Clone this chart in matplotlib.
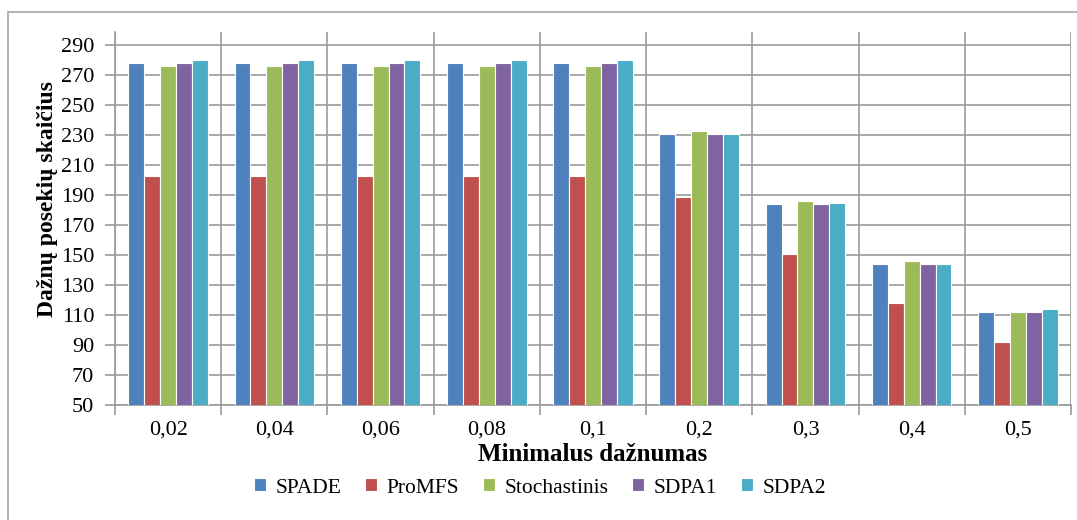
import matplotlib
matplotlib.use('Agg')
import matplotlib.pyplot as plt
import numpy as np
from matplotlib.patches import Rectangle

plt.rcParams['font.family'] = ['Liberation Serif', 'DejaVu Serif']

categories = ['0,02', '0,04', '0,06', '0,08', '0,1', '0,2', '0,3', '0,4', '0,5']
spade = [278, 278, 278, 278, 278, 231, 184, 144, 112]
promfs = [203, 203, 203, 203, 203, 189, 151, 118, 92]
stochastinis = [276, 276, 276, 276, 276, 233, 186, 146, 112]
sdpa1 = [278, 278, 278, 278, 278, 231, 184, 144, 112]
sdpa2 = [280, 280, 280, 280, 280, 231, 185, 144, 114]

series = [('SPADE', spade, '#4F81BD'),
          ('ProMFS', promfs, '#C0504D'),
          ('Stochastinis', stochastinis, '#9BBB59'),
          ('SDPA1', sdpa1, '#8064A2'),
          ('SDPA2', sdpa2, '#4BACC6')]

W, H = 1077, 520
fig = plt.figure(figsize=(W / 100, H / 100), dpi=100)
fig.patches.append(Rectangle((8 / W, -0.1), 1.2, (H - 12) / H + 0.1,
                             transform=fig.transFigure, fill=False,
                             edgecolor='#A6A6A6', linewidth=1.2))

ax = fig.add_axes([115 / W, (H - 405) / H, (1071 - 115) / W, (405 - 32) / H])

x = np.arange(len(categories))
bw = 0.15
for i, (name, vals, col) in enumerate(series):
    ax.bar(x + (i - 2) * bw, vals, width=bw, color=col, edgecolor='white',
           linewidth=0.8, label=name, zorder=3)

ax.set_ylim(50, 299)
ax.set_xlim(-0.5, len(categories) - 0.5)
ax.set_yticks(range(50, 291, 20))
ax.set_xticks(np.arange(-0.5, len(categories), 1.0))
ax.set_xticklabels([])
ax.set_xticks(x, minor=True)
ax.set_xticklabels(categories, minor=True)
ax.tick_params(axis='x', which='major', length=7, color='#9A9A9A', width=1.2)
ax.tick_params(axis='x', which='minor', length=0, labelsize=16, pad=11)
ax.tick_params(axis='y', length=7, color='#9A9A9A', width=1.2, labelsize=16, pad=8)
ax.grid(True, which='major', color='#9A9A9A', linewidth=1.2, zorder=0)
ax.set_axisbelow(True)
for s in ['top', 'right']:
    ax.spines[s].set_visible(False)
for s in ['left', 'bottom']:
    ax.spines[s].set_color('#9A9A9A')
    ax.spines[s].set_linewidth(1.2)

ax.set_ylabel('Dažnų posekių skaičius', fontsize=17, fontweight='bold')
ax.yaxis.set_label_coords(-0.060, 0.552)
ax.set_xlabel('Minimalus dažnumas', fontsize=18, fontweight='bold', labelpad=3)

fig.legend(loc='center', bbox_to_anchor=(540 / W, (H - 488) / H), ncol=5,
           frameon=False, fontsize=15.5, handlelength=0.55, handleheight=0.55,
           handletextpad=0.45, columnspacing=1.1)

fig.savefig('out.png', dpi=100)
